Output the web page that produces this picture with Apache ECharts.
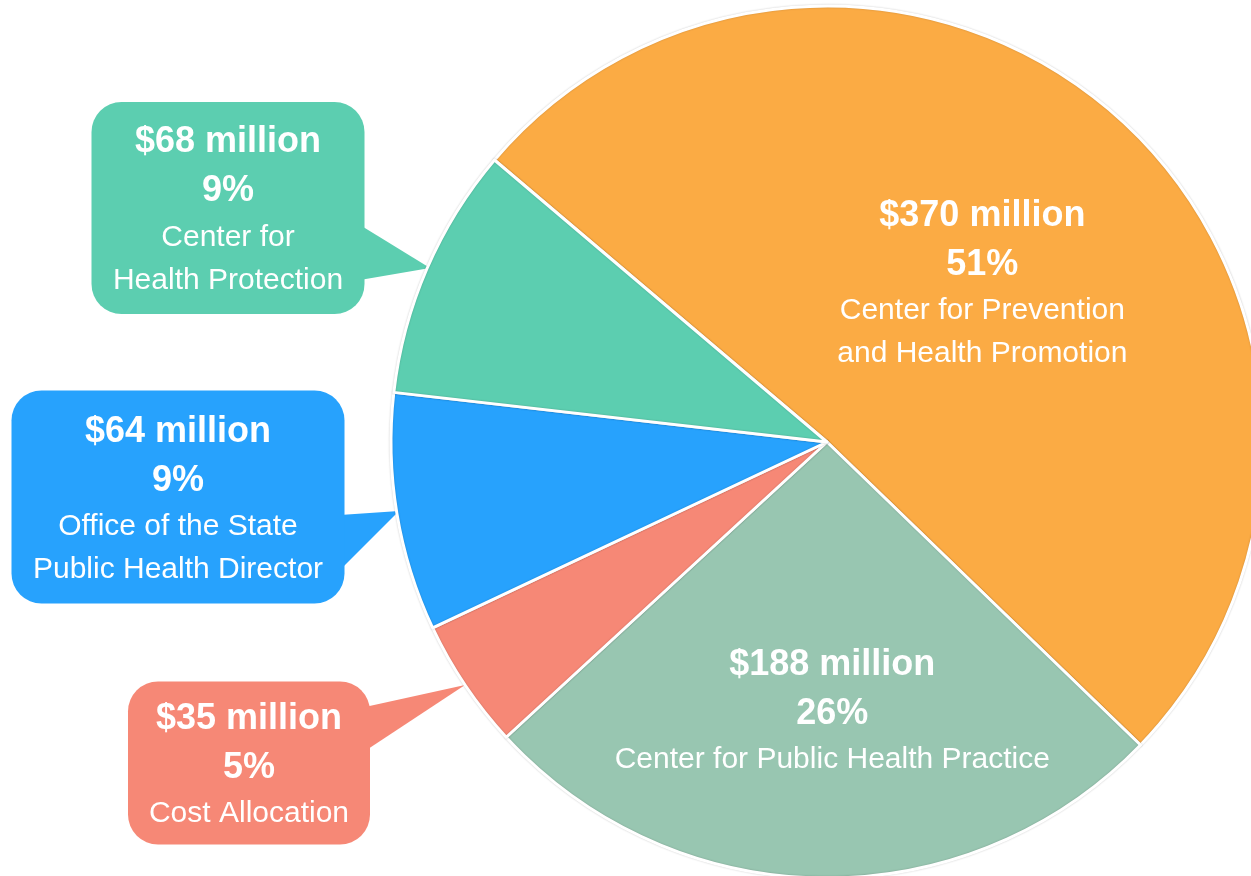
<!DOCTYPE html>
<html>
<head>
<meta charset="utf-8">
<script src="https://cdn.jsdelivr.net/npm/echarts@6/dist/echarts.min.js"></script>
<style>
  html, body { margin: 0; padding: 0; background: #fff; }
  #main { width: 1251px; height: 876px; }
</style>
</head>
<body>
<div id="main"></div>
<script>
// budget by division, $ millions (clockwise from the upper-left boundary)
const names = [
  'Center for Prevention\nand Health Promotion',
  'Center for Public Health Practice',
  'Cost Allocation',
  'Office of the State\nPublic Health Director',
  'Center for\nHealth Protection'
];
const values = [370, 188, 35, 64, 68];
const colors = ['#FBAB44', '#98C6B1', '#F68876', '#27A2FD', '#5CCEB0'];

// callout boxes for the small slices: centre point, width, height, top padding
const callouts = {
  2: { x: 249, y: 763, w: 242, h: 163, pt: 13 },
  3: { x: 178, y: 497, w: 333, h: 213, pt: 17 },
  4: { x: 228, y: 208, w: 273, h: 212, pt: 16 }
};
// small offsets for the labels that sit inside their slice
const insideOffsets = { 0: [7, 5], 1: [8, 48] };

const font = "'Liberation Sans', Arial, sans-serif";
const rich = {
  b: { fontFamily: font, fontSize: 36, fontWeight: 'bold', color: '#fff', lineHeight: 49 },
  r: { fontFamily: font, fontSize: 30, color: '#fff', lineHeight: 43 }
};

const data = values.map((v, i) => {
  let item = { name: names[i], value: v, itemStyle: { color: colors[i] } };
  if (callouts[i]) {
    const c = callouts[i];
    const lines = names[i].split('\n').length;
    const pb = c.h - c.pt - 98 - 43 * lines;
    item.label = {
      position: 'outside',
      backgroundColor: colors[i],
      borderRadius: 30,
      width: c.w,
      padding: [c.pt, 0, pb, 0],
      align: 'center'
    };
  } else {
    item.label = { position: 'inside', offset: insideOffsets[i] };
  }
  return item;
});

let chart = echarts.init(document.getElementById('main'));
chart.setOption({
  backgroundColor: '#fff',
  animation: false,
  graphic: [
    { type: 'polygon', z: 1, shape: { points: [[360, 225], [360, 280], [430, 268]] }, style: { fill: colors[4] } },
    { type: 'polygon', z: 1, shape: { points: [[340, 515], [340, 570], [399, 511]] }, style: { fill: colors[3] } },
    { type: 'polygon', z: 1, shape: { points: [[365, 707], [365, 751], [465, 685]] }, style: { fill: colors[2] } }
  ],
  series: [{
    type: 'pie',
    center: [827, 442],
    radius: 436,
    startAngle: 139.7,
    clockwise: true,
    avoidLabelOverlap: false,
    itemStyle: {
      borderColor: '#fff',
      borderWidth: 3,
      shadowBlur: 2,
      shadowColor: 'rgba(0,0,0,0.2)'
    },
    emphasis: { disabled: true },
    label: {
      show: true,
      formatter: p => '{b|$' + p.value + ' million}\n{b|' + Math.round(p.percent) + '%}\n{r|' + p.name + '}',
      rich: rich,
      align: 'center'
    },
    labelLine: { show: false },
    labelLayout: p => {
      const c = callouts[p.dataIndex];
      if (!c) return {};
      return { x: c.x, y: c.y, align: 'center', verticalAlign: 'middle' };
    },
    data: data
  }]
});
</script>
</body>
</html>
